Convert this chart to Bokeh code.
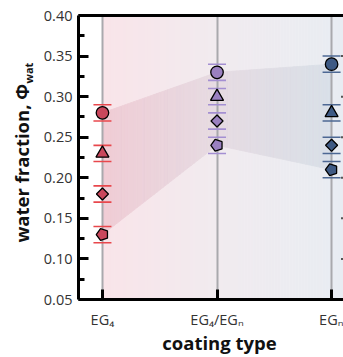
import numpy as np
from bokeh.plotting import figure
from bokeh.models import Range1d, FixedTicker, LinearAxis, Label, PrintfTickFormatter
from bokeh.embed import file_html
from bokeh.resources import INLINE

# ---- data ----
categories = ["EG₄", "EG₄/EGₙ", "EGₙ"]
cat_pos = [0, 1, 2]
circle_vals = [0.28, 0.33, 0.34]
triangle_vals = [0.23, 0.30, 0.28]
diamond_vals = [0.18, 0.27, 0.24]
pentagon_vals = [0.13, 0.24, 0.21]
err_vals = [0.01, 0.01, 0.01]
y_ticks = [0.05, 0.10, 0.15, 0.20, 0.25, 0.30, 0.35, 0.40]
y_minor = [0.075, 0.125, 0.175, 0.225, 0.275, 0.325, 0.375]

marker_colors = ["#c9475c", "#9a80c0", "#3e5a84"]
cap_colors = ["#e8474c", "#a48fd2", "#4d6893"]

X0, X1 = -0.209, 2.104
Y0, Y1 = 0.05, 0.40

p = figure(width=343, height=357, x_range=Range1d(X0, X1), y_range=Range1d(Y0, Y1),
           output_backend="svg", toolbar_location=None,
           min_border_left=77, min_border_right=0, min_border_top=15, min_border_bottom=58,
           outline_line_color=None, background_fill_color="white", border_fill_color="white")


def hex2rgb(h):
    h = h.lstrip("#")
    return np.array([int(h[i:i + 2], 16) for i in (0, 2, 4)], dtype=float)


def interp_color(stops, t):
    xs = [s[0] for s in stops]
    cols = np.array([hex2rgb(s[1]) for s in stops])
    rgb = [np.interp(t, xs, cols[:, k]) for k in range(3)]
    return "#%02x%02x%02x" % tuple(int(round(c)) for c in rgb)


# background gradient (starts at first category)
bg_stops = [(0.0, "#f9e4e9"), (1.0, "#f1ebef"), (2.1, "#e8ecf2")]
N = 80
edges = np.linspace(cat_pos[0], X1, N + 1)
p.quad(left=edges[:-1], right=edges[1:] + 0.004, bottom=Y0, top=Y1,
       fill_color=[interp_color(bg_stops, (a + b) / 2) for a, b in zip(edges[:-1], edges[1:])],
       line_color=None, level="image")

# shaded band between max (circle) and min (pentagon)
band_stops = [(0.0, "#f0ccd5"), (1.0, "#e6dbe2"), (2.0, "#d9e0e8")]
xs_list, ys_list, cols = [], [], []
M = 40
for i in range(len(cat_pos) - 1):
    xa, xb = cat_pos[i], cat_pos[i + 1]
    ts = np.linspace(0, 1, M + 1)
    for j in range(M):
        t0, t1 = ts[j], ts[j + 1]
        xl = xa + (xb - xa) * t0
        xr = xa + (xb - xa) * t1
        tl = circle_vals[i] + (circle_vals[i + 1] - circle_vals[i]) * t0
        tr = circle_vals[i] + (circle_vals[i + 1] - circle_vals[i]) * t1
        bl = pentagon_vals[i] + (pentagon_vals[i + 1] - pentagon_vals[i]) * t0
        br = pentagon_vals[i] + (pentagon_vals[i + 1] - pentagon_vals[i]) * t1
        xs_list.append([xl, xr, xr, xl])
        ys_list.append([bl, br, tr, tl])
        cols.append(interp_color(band_stops, (xl + xr) / 2))
p.patches(xs_list, ys_list, fill_color=cols, line_color=cols, line_width=0.8, level="image")

# grid
p.xgrid.grid_line_color = "#a9a9ad"
p.xgrid.grid_line_width = 2
p.ygrid.grid_line_color = None

# small tick marks at the (cropped) right edge
p.scatter([X1] * len(y_ticks), y_ticks, marker="dash", size=5, line_color="#555555", line_width=2)

# error caps
for vals in (circle_vals, triangle_vals, diamond_vals, pentagon_vals):
    up = [v + e for v, e in zip(vals, err_vals)]
    lo = [v - e for v, e in zip(vals, err_vals)]
    p.scatter(cat_pos, up, marker="dash", size=18, line_color=cap_colors, line_width=1.6)
    p.scatter(cat_pos, lo, marker="dash", size=18, line_color=cap_colors, line_width=1.6)

# markers
p.scatter(cat_pos, circle_vals, marker="circle", size=12.5, fill_color=marker_colors,
          line_color="black", line_width=1.3)
p.scatter(cat_pos, triangle_vals, marker="triangle", size=13, fill_color=marker_colors,
          line_color="black", line_width=1.3)
p.scatter(cat_pos, diamond_vals, marker="square", angle=np.pi / 4, size=8.5, fill_color=marker_colors,
          line_color="black", line_width=1.3)
p.ngon(x=cat_pos, y=pentagon_vals, radius=6.2, radius_units="screen", n=5, angle=np.pi / 2,
       fill_color=marker_colors, line_color="black", line_width=1.3)

# axes
FONT = "Open Sans"
ax = p.xaxis[0]
ax.ticker = FixedTicker(ticks=cat_pos)
ax.major_label_overrides = {c: lab for c, lab in zip(cat_pos, categories)}
ay = p.yaxis[0]
ay.ticker = FixedTicker(ticks=y_ticks, minor_ticks=y_minor)
ay.formatter = PrintfTickFormatter(format="%.2f")
for a in (ax, ay):
    a.axis_line_width = 3
    a.axis_line_color = "black"
    a.major_tick_line_width = 3
    a.minor_tick_line_width = 3
    a.major_tick_in = 10
    a.major_tick_out = 0
    a.minor_tick_in = 6
    a.minor_tick_out = 0
    a.major_label_text_font = FONT
    a.major_label_text_font_size = "14.5px"
    a.major_label_text_color = "#333333"
ax.minor_tick_line_color = None
ax.major_label_standoff = 10
ay.major_label_standoff = 6

top = LinearAxis(ticker=FixedTicker(ticks=[]), axis_line_width=3, axis_line_color="black",
                 major_label_text_font_size="0px", major_tick_in=0, major_tick_out=0,
                 minor_tick_in=0, minor_tick_out=0, major_label_standoff=0)
p.add_layout(top, "above")

# x-axis title, as a label in the bottom side panel
x_title = Label(x=141, y=14, x_units="screen", y_units="screen", text="coating type",
                text_font=FONT, text_font_style="bold", text_font_size="18.5px",
                text_align="center", text_baseline="middle", text_color="#111111")
p.add_layout(x_title, "below")

# y-axis title with subscript, as labels in the left side panel
sub_label = Label(x=3, y=216, x_units="screen", y_units="screen", text="wat",
                  angle=np.pi / 2, text_font=FONT, text_font_style="bold", text_font_size="11px",
                  text_align="left", text_baseline="middle", text_color="#111111")
main_label = Label(x=21, y=57, x_units="screen", y_units="screen", text="water fraction, Φ",
                   angle=np.pi / 2, text_font=FONT, text_font_style="bold", text_font_size="18.5px",
                   text_align="left", text_baseline="middle", text_color="#111111")
p.add_layout(sub_label, "left")
p.add_layout(main_label, "left")

open("out.html", "w").write(file_html(p, INLINE))
